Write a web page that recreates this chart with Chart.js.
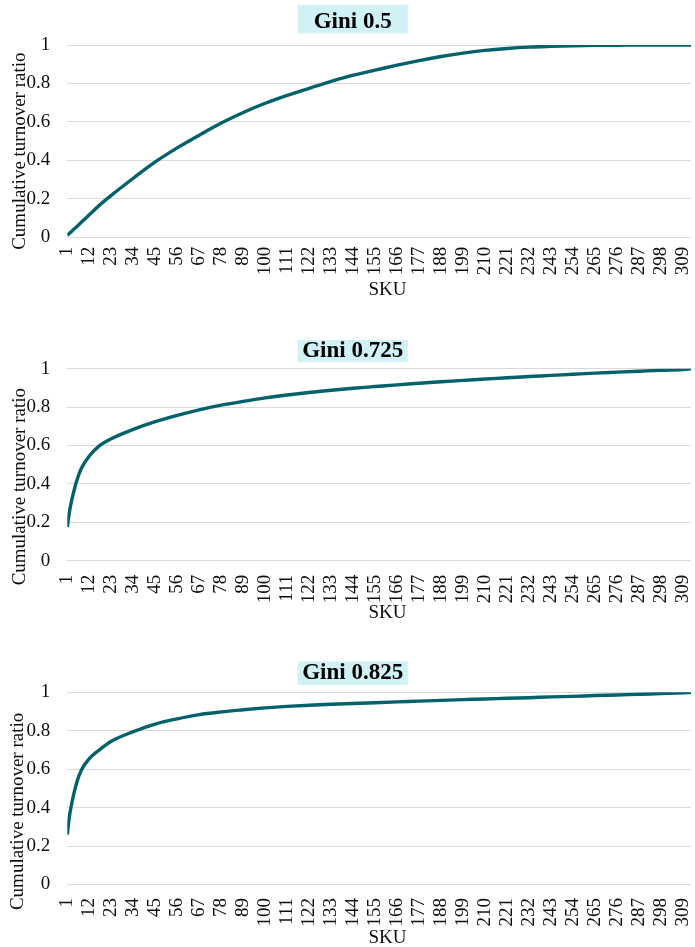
<!DOCTYPE html>
<html>
<head>
<meta charset="utf-8">
<title>Cumulative turnover ratio by SKU</title>
<script src="https://cdn.jsdelivr.net/npm/chart.js@4.4.1/dist/chart.umd.min.js"></script>
<style>
  html, body { margin: 0; padding: 0; background: #ffffff; }
  #wrap { position: relative; width: 695px; height: 947px; overflow: hidden; }
  #wrap canvas { position: absolute; left: 0; }
</style>
</head>
<body>
<div id="wrap">
  <canvas id="gini05" width="695" height="310" style="top:0px"></canvas>
  <canvas id="gini0725" width="695" height="310" style="top:320px"></canvas>
  <canvas id="gini0825" width="695" height="307" style="top:640px"></canvas>
</div>
<script>
// SKU rank (sorted by turnover) at which each curve is sampled
const skus = [1, 2, 3, 4, 6, 8, 12, 17, 23, 34, 45, 56, 67, 78, 89, 100, 111, 122, 133, 144,
              155, 166, 177, 188, 199, 210, 221, 232, 243, 254, 265, 276, 287, 298, 309, 313];

// Cumulative turnover ratio for each Gini level
const ratioGini05 = [0.010, 0.020, 0.029, 0.039, 0.058, 0.078, 0.117, 0.166, 0.218, 0.307, 0.392, 0.465,
                     0.531, 0.594, 0.649, 0.697, 0.738, 0.775, 0.811, 0.843, 0.869, 0.895, 0.919, 0.940,
                     0.958, 0.972, 0.982, 0.989, 0.993, 0.996, 0.998, 0.999, 1.000, 1.000, 1.000, 1.000];
const ratioGini0725 = [0.175, 0.250, 0.305, 0.350, 0.425, 0.480, 0.545, 0.598, 0.635, 0.684, 0.724, 0.757,
                       0.786, 0.810, 0.830, 0.848, 0.863, 0.876, 0.888, 0.898, 0.907, 0.916, 0.924, 0.932,
                       0.939, 0.946, 0.953, 0.959, 0.965, 0.971, 0.977, 0.982, 0.987, 0.992, 0.996, 1.000];
const ratioGini0825 = [0.260, 0.350, 0.410, 0.460, 0.540, 0.595, 0.655, 0.700, 0.745, 0.795, 0.835, 0.862,
                       0.884, 0.898, 0.909, 0.919, 0.927, 0.933, 0.938, 0.942, 0.946, 0.950, 0.954, 0.958,
                       0.962, 0.965, 0.969, 0.972, 0.976, 0.979, 0.983, 0.986, 0.990, 0.993, 0.997, 0.999];

// Category tick labels shown along the SKU axis
const skuTickLabels = [1, 12, 23, 34, 45, 56, 67, 78, 89, 100, 111, 122, 133, 144, 155, 166, 177,
                       188, 199, 210, 221, 232, 243, 254, 265, 276, 287, 298, 309];
const lastSku = 313;

const panelTitles = ['Gini 0.5', 'Gini 0.725', 'Gini 0.825'];
const yAxisTitle = 'Cumulative turnover ratio';
const xAxisTitle = 'SKU';

const SERIF = '"Liberation Serif", "Times New Roman", Times, serif';
const LINE_COLOR = '#03616c';
const GRID_COLOR = '#d9d9d9';
const TEXT_COLOR = '#0d0d0d';

// Per-panel geometry (canvas-local pixels)
const panels = [
  { id: 'gini05',   title: panelTitles[0], values: ratioGini05,   height: 310,
    plotTop: 45,   plotBottom: 237.3, boxTop: 5,  boxBottom: 33.3, titleBase: 28.3,
    yTitleShift: 10, yTitleX: 25, tickPad: 9.5, skuBase: 57.7 },
  { id: 'gini0725', title: panelTitles[1], values: ratioGini0725, height: 310,
    plotTop: 48.7, plotBottom: 240.7, boxTop: 20, boxBottom: 42,   titleBase: 36.7,
    yTitleShift: 22, yTitleX: 25, tickPad: 14, skuBase: 57.3 },
  { id: 'gini0825', title: panelTitles[2], values: ratioGini0825, height: 307,
    plotTop: 52.3, plotBottom: 244.5, boxTop: 21.5, boxBottom: 45, titleBase: 39.3,
    yTitleShift: 23, yTitleX: 23, tickPad: 13.5, skuBase: 58.5 }
];

const PLOT_LEFT = 67.3;
const PLOT_RIGHT = 691;
const BOX_LEFT = 297.7;
const BOX_WIDTH = 110;

// Draws the highlighted panel heading and both axis captions
const panelDecor = {
  id: 'panelDecor',
  afterDraw(chart, args, o) {
    const { ctx, chartArea: a } = chart;
    ctx.save();
    ctx.fillStyle = '#d0f1f6';
    ctx.fillRect(BOX_LEFT, o.boxTop, BOX_WIDTH, o.boxBottom - o.boxTop);
    ctx.fillStyle = '#000000';
    ctx.font = 'bold 23px ' + SERIF;
    ctx.textAlign = 'center';
    ctx.textBaseline = 'alphabetic';
    ctx.fillText(o.title, BOX_LEFT + BOX_WIDTH / 2, o.titleBase);

    ctx.fillStyle = TEXT_COLOR;
    ctx.font = '19px ' + SERIF;
    ctx.fillText(xAxisTitle, 387.5, a.bottom + o.skuBase);

    ctx.translate(o.yTitleX, (a.top + a.bottom) / 2 + o.yTitleShift);
    ctx.rotate(-Math.PI / 2);
    ctx.fillText(yAxisTitle, 0, 0);
    ctx.restore();
  }
};

panels.forEach(p => {
  const points = skus.map((s, i) => ({ x: s, y: p.values[i] }));
  new Chart(document.getElementById(p.id), {
    type: 'line',
    data: {
      datasets: [{
        label: p.title,
        data: points,
        borderColor: LINE_COLOR,
        borderWidth: 3.4,
        pointRadius: 0,
        fill: false,
        cubicInterpolationMode: 'monotone'
      }]
    },
    plugins: [panelDecor],
    options: {
      responsive: false,
      animation: false,
      devicePixelRatio: 1,
      layout: { padding: { top: p.plotTop, left: 0, right: 695 - PLOT_RIGHT, bottom: 0 } },
      plugins: {
        legend: { display: false },
        title: { display: false },
        tooltip: { enabled: false },
        panelDecor: {
          title: p.title, boxTop: p.boxTop, boxBottom: p.boxBottom, titleBase: p.titleBase,
          yTitleShift: p.yTitleShift, yTitleX: p.yTitleX, skuBase: p.skuBase
        }
      },
      scales: {
        x: {
          type: 'linear',
          min: 1,
          max: lastSku,
          grid: { display: false, drawTicks: false },
          border: { display: false },
          afterBuildTicks(scale) {
            scale.ticks = skuTickLabels.map(v => ({ value: v }));
          },
          afterFit(scale) {
            scale.height = p.height - p.plotBottom;
            scale.paddingLeft = 0;
            scale.paddingRight = 0;
          },
          ticks: {
            autoSkip: false,
            minRotation: 90,
            maxRotation: 90,
            padding: p.tickPad,
            color: TEXT_COLOR,
            font: { family: SERIF, size: 19 },
            callback: v => String(v)
          }
        },
        y: {
          min: 0,
          max: 1,
          grid: { color: GRID_COLOR, lineWidth: 1, drawTicks: false },
          border: { display: false },
          afterFit(scale) { scale.width = PLOT_LEFT; },
          ticks: {
            stepSize: 0.2,
            padding: 17,
            color: TEXT_COLOR,
            font: { family: SERIF, size: 19 },
            callback: v => String(Math.round(v * 10) / 10)
          }
        }
      }
    }
  });
});
</script>
</body>
</html>
